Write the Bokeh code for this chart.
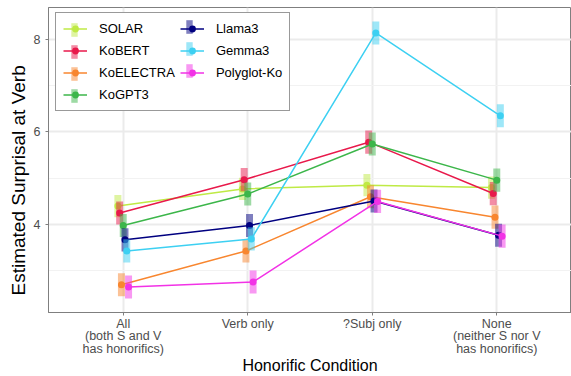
from bokeh.plotting import figure
from bokeh.models import FixedTicker, Legend, LegendItem, ColumnDataSource, Range1d, Title
from bokeh.embed import file_html
from bokeh.resources import INLINE

conditions = ["All\n(both S and V\nhas honorifics)", "Verb only", "?Subj only", "None\n(neither S nor V\nhas honorifics)"]
models = ["SOLAR", "KoBERT", "KoELECTRA", "KoGPT3", "Llama3", "Gemma3", "Polyglot-Ko"]
colors = ["#BFEA45", "#E8194B", "#F8862F", "#3CB64A", "#000080", "#3DD0F2", "#F232E6"]

solar = [4.40, 4.77, 4.85, 4.80]
kobert = [4.25, 4.97, 5.78, 4.67]
koelectra = [2.70, 3.43, 4.60, 4.16]
kogpt3 = [3.98, 4.66, 5.74, 4.96]
llama3 = [3.67, 3.98, 4.51, 3.77]
gemma3 = [3.43, 3.69, 8.14, 6.35]
polyglot = [2.65, 2.76, 4.50, 3.75]

solar_err = [0.24, 0.24, 0.24, 0.24]
kobert_err = [0.25, 0.25, 0.25, 0.25]
koelectra_err = [0.25, 0.25, 0.25, 0.25]
kogpt3_err = [0.25, 0.25, 0.25, 0.25]
llama3_err = [0.25, 0.25, 0.25, 0.25]
gemma3_err = [0.25, 0.25, 0.25, 0.25]
polyglot_err = [0.25, 0.25, 0.25, 0.25]

series = [solar, kobert, koelectra, kogpt3, llama3, gemma3, polyglot]
errors = [solar_err, kobert_err, koelectra_err, kogpt3_err, llama3_err, gemma3_err, polyglot_err]

FONT = "Liberation Sans"
p = figure(width=571, height=376, output_backend="svg", toolbar_location=None,
           x_range=Range1d(0.4, 4.6), y_range=Range1d(2.1, 8.69))
p.min_border_left = 48
p.min_border_right = 0
p.min_border_top = 7
p.min_border_bottom = 64
p.background_fill_color = "white"
p.border_fill_color = "white"
p.outline_line_color = "#7F7F7F"
p.outline_line_width = 1

n = len(models)
dodge = 0.1 / n
line_items = []
box_items = []
for i, (m, c, ys, es) in enumerate(zip(models, colors, series, errors)):
    off = (i - (n - 1) / 2) * dodge
    xs = [k + 1 + off for k in range(len(ys))]
    src = ColumnDataSource(dict(x=xs, y=ys, lo=[y - e for y, e in zip(ys, es)], hi=[y + e for y, e in zip(ys, es)]))
    r1 = p.vbar(x="x", bottom="lo", top="hi", width=0.056, source=src, fill_color=c, fill_alpha=0.5, line_color=None)
    r2 = p.line("x", "y", source=src, line_color=c, line_width=1.5)
    r3 = p.scatter("x", "y", source=src, size=7, fill_color=c, line_color=None)
    line_items.append(LegendItem(label=m, renderers=[r2, r3]))
    box_items.append(LegendItem(label="", renderers=[r1]))

GW1, GW2, GH = 24, 8, 17
PAD, STAND, SPC = 7, 12, 5
LX, LY = 7, 201

def make_legend(items, gw, loc, nrows):
    lg = Legend(items=items, nrows=nrows, location=loc)
    lg.label_text_font = FONT
    lg.label_text_font_size = "13px"
    lg.label_text_color = "black"
    lg.glyph_width = gw
    lg.glyph_height = GH
    lg.spacing = SPC
    lg.label_standoff = STAND
    lg.padding = PAD
    lg.margin = 0
    lg.border_line_width = 1
    return lg

leg1 = make_legend(line_items, GW1, (LX, LY), 4)
leg1.border_line_color = "#333333"
leg1.background_fill_color = "white"
leg1.background_fill_alpha = 1
p.add_layout(leg1)

leg2a = make_legend(box_items[:4], GW2, (LX + (GW1 - GW2) / 2, LY), 4)
leg2a.border_line_color = "white"
leg2a.border_line_alpha = 0
leg2a.background_fill_alpha = 0
p.add_layout(leg2a)

leg2b = make_legend(box_items[4:], GW2, (LX + (GW1 - GW2) / 2 + 115, LY + 25), 3)
leg2b.border_line_color = "white"
leg2b.border_line_alpha = 0
leg2b.background_fill_alpha = 0
p.add_layout(leg2b)

p.xaxis.ticker = FixedTicker(ticks=[1, 2, 3, 4])
p.xaxis.major_label_overrides = {i + 1: c for i, c in enumerate(conditions)}
p.yaxis.ticker = FixedTicker(ticks=[4, 6, 8], minor_ticks=[3, 5, 7])
p.xgrid.ticker = FixedTicker(ticks=[1, 2, 3, 4])

for ax in [p.xaxis[0], p.yaxis[0]]:
    ax.axis_line_color = "#7F7F7F"
    ax.major_tick_line_color = "#7F7F7F"
    ax.major_tick_in = 0
    ax.major_tick_out = 3
    ax.minor_tick_line_color = None
    ax.major_label_text_font = FONT
    ax.major_label_text_font_size = "12.5px"
    ax.major_label_text_color = "#4D4D4D"
    ax.major_label_text_line_height = 0.9
    ax.axis_label_text_font = FONT
    ax.axis_label_text_font_style = "normal"
    ax.axis_label_text_color = "black"
    ax.axis_label_text_line_height = 1.0

p.xaxis.axis_label_text_font_size = "16px"
p.xaxis.axis_label = "Honorific Condition"
p.xaxis.major_label_standoff = 1
p.yaxis.major_label_standoff = 4
p.xaxis.axis_label_standoff = -2

ytitle = Title(text="Estimated Surprisal at Verb", align="left", offset=17,
               text_font=FONT, text_font_size="19px", text_font_style="normal",
               text_color="black", standoff=4)
p.add_layout(ytitle, "left")

p.xgrid.grid_line_color = "#EBEBEB"
p.xgrid.grid_line_width = 2
p.ygrid.grid_line_color = "#EBEBEB"
p.ygrid.grid_line_width = 2
p.ygrid.minor_grid_line_color = "#F2F2F2"
p.ygrid.minor_grid_line_width = 1

open("out.html", "w").write(file_html(p, INLINE))
